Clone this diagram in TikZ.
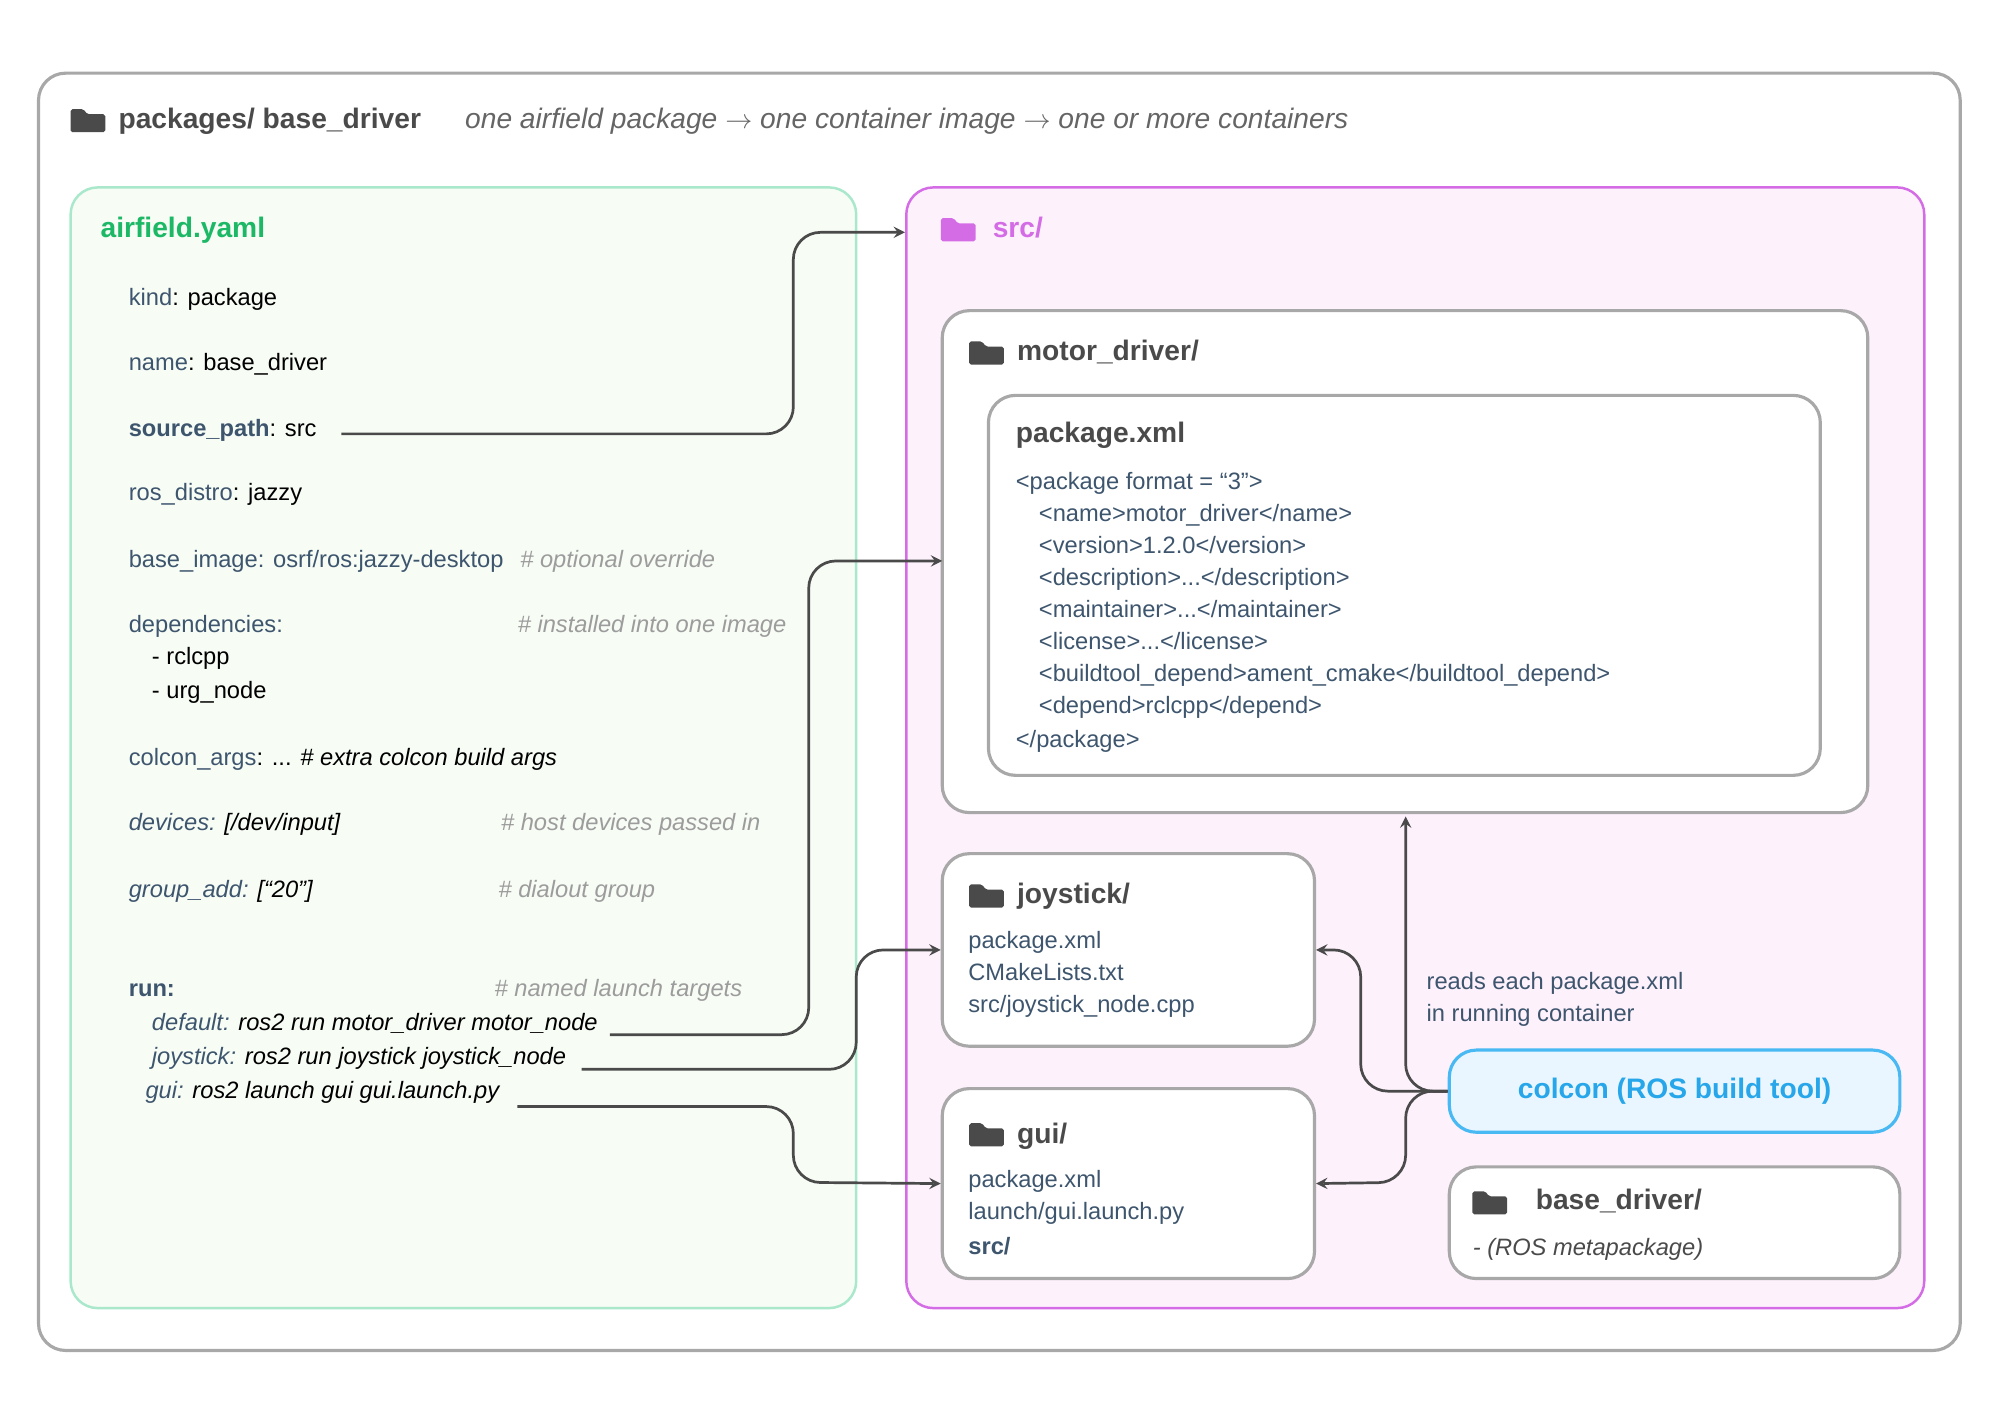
\documentclass[tikz,border=0pt]{standalone}
\usepackage{fontspec}
\setmainfont{Liberation Sans}
\usetikzlibrary{positioning,arrows,fit,calc}
\definecolor{keyblue}{HTML}{3E556E}
\definecolor{cmtgray}{HTML}{9C9C9C}
\definecolor{yamlgreen}{HTML}{1DB866}
\definecolor{mintline}{HTML}{A9E8CB}
\definecolor{mintfill}{HTML}{F7FCF5}
\definecolor{pinkline}{HTML}{D46DE5}
\definecolor{pinkfill}{HTML}{FDF1FC}
\definecolor{colconline}{HTML}{48B9F2}
\definecolor{colconfill}{HTML}{EAF6FF}
\definecolor{colcontext}{HTML}{27A6EA}
\definecolor{darkicon}{HTML}{4A4A4A}
\definecolor{boxgray}{HTML}{A8A8A8}

\begin{document}
\begin{tikzpicture}[
    x=0.02cm, y=-0.02cm,
    >=stealth,
    frame/.style ={
        draw=boxgray,
        line width=1.4pt,
        rounded corners=12pt,
        inner sep=0pt
    },
    box/.style ={
        frame,
        fill=white
    },
    txt/.style ={
        anchor=base west,
        inner sep=0pt,
        font=\fontsize{10.5}{12}\selectfont
    },
    key/.style ={
        txt,
        text=keyblue
    },
    cmt/.style ={
        txt,
        text=cmtgray,
        font=\fontsize{10.5}{12}\selectfont\itshape
    },
    title/.style ={
        txt,
        text=darkicon,
        font=\fontsize{12.5}{14}\selectfont\bfseries
    },
    link/.style ={
        ->,
        draw=darkicon,
        line width=1.2pt,
        rounded corners=12pt
    },
    folder/.pic ={
        \fill[#1, rounded corners=0.8pt] (0,3) -- (0,21) -- (27,21) -- (27,7) -- (13,7) -- (10,3) -- cycle;
    }
    ]
    \useasboundingbox (0,0) rectangle (1558,1101);

    % frames
    \node[frame, fit={(30,57) (1527,1052)}] (outer) {};
    \node[frame, draw=mintline, fill=mintfill, line width=1.1pt, fit={(55,146) (667,1019)}] (yaml) {};
    \node[frame, draw=pinkline, fill=pinkfill, line width=1.1pt, fit={(706,146) (1499,1019)}] (src) {};

    % header
    \pic at (55,82) {folder=darkicon};
    \node[title, font=\fontsize{12.5}{14}\selectfont\bfseries] (hdr) at (92,100) {packages/ base\_driver};
    \node[cmt, text=darkicon!85, font=\fontsize{12.5}{14}\selectfont\itshape] (hdrnote) at (362,100)
        {one airfield package $\rightarrow$ one container image $\rightarrow$ one or more containers};

    % airfield.yaml
    \node[title, text=yamlgreen] (yamltitle) at (78,185) {airfield.yaml};
    \node[key] (kind) at (100,238) {kind\textcolor{black}{: package}};
    \node[key] (name) at (100,289) {name\textcolor{black}{: base\_driver}};
    \node[key, font=\fontsize{10.5}{12}\selectfont\bfseries] (srcpath) at (100,340) {source\_path\textcolor{black}{\mdseries: src}};
    \node[key] (distro) at (100,390) {ros\_distro\textcolor{black}{: jazzy}};
    \node[key] (base) at (100,442) {base\_image: osrf/ros:jazzy-desktop};
    \node[cmt] at (405,442) {\# optional override};
    \node[key] (deps) at (100,493) {dependencies:};
    \node[cmt] at (403,493) {\# installed into one image};
    \node[txt] (dep1) at (118,518) {- rclcpp};
    \node[txt] (dep2) at (118,544) {- urg\_node};
    \node[key] (colconargs) at (100,596) {colcon\_args\textcolor{black}{: ... \itshape\# extra colcon build args}};
    \node[key, font=\fontsize{10.5}{12}\selectfont\itshape] (devices) at (100,647) {devices: \textcolor{black}{[/dev/input]}};
    \node[cmt] at (390,647) {\# host devices passed in};
    \node[key, font=\fontsize{10.5}{12}\selectfont\itshape] (group) at (100,699) {group\_add: \textcolor{black}{[“20”]}};
    \node[cmt] at (388,699) {\# dialout group};
    \node[key, font=\fontsize{10.5}{12}\selectfont\bfseries] (run) at (100,776) {run:};
    \node[cmt] at (385,776) {\# named launch targets};
    \node[key, font=\fontsize{10.5}{12}\selectfont\itshape] (rundef) at (118,803) {default: \textcolor{black}{ros2 run motor\_driver motor\_node}};
    \node[key, font=\fontsize{10.5}{12}\selectfont\itshape] (runjoy) at (118,829) {joystick: \textcolor{black}{ros2 run joystick joystick\_node}};
    \node[key, font=\fontsize{10.5}{12}\selectfont\itshape] (rungui) at (113,856) {gui: \textcolor{black}{ros2 launch gui gui.launch.py}};

    \coordinate (srcend) at (266,338);
    \coordinate (defend) at (475,806);
    \coordinate (joyend) at (453,833);
    \coordinate (guiend) at (403,862);

    % src/
    \pic at (733,167) {folder=pinkline};
    \node[title, text=pinkline] (srctitle) at (773,185) {src/};
    \coordinate (srcin) at (705,181);

    % motor_driver/
    \node[box, fit={(734,242) (1455,633)}] (motor) {};
    \pic at (755,263) {folder=darkicon};
    \node[title] (motortitle) at (792,281) {motor\_driver/};
    \node[box, fit={(770,308) (1418,604)}] (pkgxml) {};
    \node[title] (pkgtitle) at (791,345) {package.xml};
    \foreach \y/ \ind/ \line in {
        381/791/{<package format = “3”>},
        406/809/{<name>motor\_driver</name>},
        431/809/{<version>1.2.0</version>},
        456/809/{<description>...</description>},
        481/809/{<maintainer>...</maintainer>},
        506/809/{<license>...</license>},
        531/809/{<buildtool\_depend>ament\_cmake</buildtool\_depend>},
        556/809/{<depend>rclcpp</depend>},
        582/791/{</package>}}
        \node[key] at (\ind,\y) {\line};

    % joystick/
    \node[box, fit={(734,665) (1024,815)}] (joystick) {};
    \pic at (755,686) {folder=darkicon};
    \node[title] (joytitle) at (792,704) {joystick/};
    \node[key] at (754,739) {package.xml};
    \node[key] at (754,764) {CMakeLists.txt};
    \node[key] at (754,789) {src/joystick\_node.cpp};

    % gui/
    \node[box, fit={(734,848) (1024,996)}] (gui) {};
    \pic at (755,872) {folder=darkicon};
    \node[title] (guititle) at (792,891) {gui/};
    \node[key] at (754,925) {package.xml};
    \node[key] at (754,950) {launch/gui.launch.py};
    \node[key, font=\fontsize{10.5}{12}\selectfont\bfseries] at (754,977) {src/};

    % colcon and base_driver/
    \node[key] (reads) at (1111,771) {reads each package.xml};
    \node[key] (reads2) at (1111,796) {in running container};
    \node[frame, draw=colconline, fill=colconfill, fit={(1129,818) (1480,882)}] (colcon) {};
    \node[text=colcontext, font=\fontsize{12.5}{14}\selectfont\bfseries] at (colcon) {colcon (ROS build tool)};
    \node[box, fit={(1129,909) (1480,996)}] (basedrv) {};
    \pic at (1147,925) {folder=darkicon};
    \node[title] (basetitle) at (1196,942) {base\_driver/};
    \node[txt, text=darkicon, font=\fontsize{10.5}{12}\selectfont\itshape] at (1147,978) {- (ROS metapackage)};

    % connectors
    \draw[link] (srcend) -| (618,181) -- (srcin);
    \draw[link] (defend) -| (630,437) -- (734,437);
    \draw[link] (joyend) -| (667,740) -- (joystick.west);
    \draw[link] (guiend) -| (618,921) -- (gui.west);
    \draw[link] (colcon.west) -| (1095,636);
    \draw[link] (colcon.west) -| (1060,740) -- (joystick.east);
    \draw[link] (colcon.west) -| (1095,921) -- (gui.east);
\end{tikzpicture}
\end{document}
